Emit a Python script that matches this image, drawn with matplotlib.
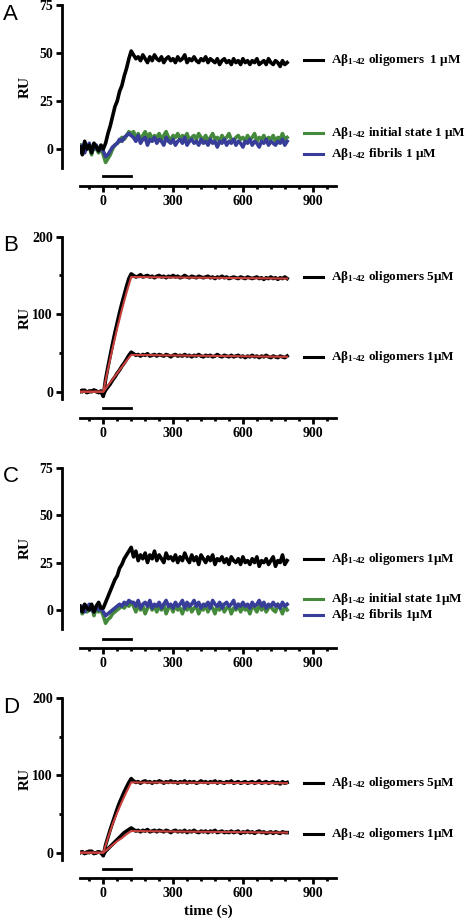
import numpy as np
import matplotlib
matplotlib.use("Agg")
import matplotlib.pyplot as plt

plt.rcParams['mathtext.fontset'] = 'custom'
plt.rcParams['mathtext.rm'] = 'Liberation Serif:bold'
plt.rcParams['mathtext.it'] = 'Liberation Serif:bold'
plt.rcParams['mathtext.bf'] = 'Liberation Serif:bold'

# temps (s) : avant injection, injection (0-120 s), dissociation
t_pre = np.arange(-100, 0, 10)
t_rise = np.arange(0, 121, 10)
t_post = np.arange(130, 791, 10)
temps = np.concatenate([t_pre, t_rise, t_post])

# ---- A : oligomeres / etat initial / fibrilles 1 uM
a_olig = ([1, -3, 4, 0, 2, -2, 3, 1, -1, 2]
          + [0, 3, 8, 12, 17, 22, 25, 30, 33, 38, 42, 47, 51]
          + [49, 47, 48, 46, 49, 47, 45, 48, 46, 49,
             47, 46, 48, 45, 47, 48, 46, 47, 45, 48,
             46, 47, 49, 45, 47, 46, 48, 46, 45, 47,
             46, 48, 45, 47, 46, 45, 47, 44, 46, 47,
             45, 46, 44, 47, 45, 46, 44, 47, 45, 46,
             44, 46, 45, 47, 44, 45, 46, 44, 47, 45,
             44, 46, 45, 43, 46, 44, 45])
a_init = ([2, -2, 3, 0, 1, -3, 2, 0, -2, 1]
          + [-3, -7, -5, -3, 0, 2, 3, 4, 6, 5, 7, 9, 8]
          + [9, 6, 8, 5, 7, 9, 6, 8, 5, 7,
             6, 8, 5, 7, 9, 6, 5, 7, 6, 8,
             5, 7, 6, 8, 4, 6, 7, 5, 8, 6,
             5, 7, 4, 6, 8, 5, 6, 4, 7, 5,
             6, 8, 5, 4, 6, 7, 5, 6, 4, 7,
             5, 6, 8, 4, 6, 5, 7, 4, 6, 5,
             7, 4, 6, 5, 8, 5, 6])
a_fib = ([0, 2, -2, 1, 3, -1, 0, 2, -1, 1]
         + [-1, -4, -3, -1, 1, 2, 3, 5, 4, 6, 7, 8, 7]
         + [6, 4, 7, 3, 5, 6, 2, 5, 4, 6,
            3, 5, 4, 2, 6, 4, 3, 5, 2, 4,
            5, 3, 6, 2, 4, 5, 3, 4, 2, 5,
            3, 4, 2, 5, 3, 4, 1, 4, 3, 5,
            2, 4, 3, 5, 2, 4, 3, 1, 4, 3,
            5, 2, 4, 3, 1, 4, 3, 5, 2, 4,
            3, 2, 4, 3, 5, 2, 4])

# ---- B : oligomeres 5 uM et 1 uM + ajustements
b_olig5 = ([1, 0, 2, -1, 1, 0, 2, 1, -1, 0]
           + [-6, 16, 32, 47, 62, 76, 89, 102, 114, 125, 136, 146, 152]
           + [150, 148, 149, 151, 148, 149, 150, 148, 149, 147,
              149, 150, 148, 149, 147, 149, 148, 150, 148, 149,
              147, 148, 150, 148, 147, 149, 148, 147, 149, 148,
              147, 148, 149, 147, 148, 146, 148, 147, 149, 147,
              148, 146, 147, 148, 147, 146, 148, 147, 146, 148,
              147, 146, 147, 148, 146, 147, 145, 147, 146, 148,
              146, 147, 145, 147, 146, 148, 146])
b_olig1 = ([0, 2, 1, -1, 0, 1, 2, 0, -1, 1]
           + [-4, 2, 6, 10, 15, 19, 24, 28, 33, 37, 42, 47, 51]
           + [49, 47, 48, 46, 48, 47, 49, 46, 47, 48,
              46, 48, 47, 46, 48, 47, 45, 47, 48, 46,
              47, 46, 48, 46, 47, 45, 47, 46, 48, 46,
              45, 47, 46, 47, 45, 46, 48, 46, 45, 47,
              46, 45, 47, 45, 46, 47, 45, 46, 44, 46,
              45, 47, 45, 46, 44, 46, 45, 47, 45, 44,
              46, 45, 44, 46, 45, 44, 46])
fit_t = [-100, 0, 20, 40, 60, 80, 100, 120, 790]
b_fit5 = [0, 0, 29, 56, 82, 106, 128, 148, 146]
b_fit1 = [0, 0, 8, 16, 24, 32, 40, 47.5, 45]

# ---- C : oligomeres / etat initial / fibrilles 1 uM
c_olig = ([2, -1, 3, 1, 0, 3, -1, 2, 4, 1]
          + [1, 4, 7, 10, 13, 16, 18, 22, 24, 27, 29, 31, 33]
          + [28, 31, 26, 29, 27, 30, 25, 29, 27, 31,
             26, 29, 27, 25, 30, 27, 28, 26, 29, 25,
             28, 26, 30, 27, 25, 29, 26, 28, 24, 29,
             27, 25, 28, 26, 29, 24, 27, 26, 28, 25,
             27, 24, 28, 26, 25, 27, 24, 28, 25, 26,
             24, 27, 25, 28, 23, 26, 25, 27, 24, 26,
             28, 23, 26, 25, 29, 24, 26])
c_init = ([1, -2, 2, -1, 0, 2, -3, 1, -1, 0]
          + [-3, -7, -5, -4, -2, -1, 0, 1, 2, 1, 3, 2, 4]
          + [2, -1, 3, 0, 2, -2, 1, 3, 0, 2,
             -1, 2, 0, 3, -2, 1, 2, -1, 3, 0,
             1, -2, 2, 0, 3, -1, 1, 2, -2, 1,
             0, 3, -1, 2, 1, -2, 2, 0, 3, -1,
             1, 2, -2, 1, 0, 3, -1, 2, 0, 1,
             -2, 2, 1, -1, 3, 0, 2, -1, 1, 2,
             0, -1, 3, 1, -2, 2, 0])
c_fib = ([0, 2, -1, 1, 3, 0, -1, 2, 0, 1]
         + [-1, -3, -2, -1, 0, 1, 2, 3, 2, 4, 3, 5, 4]
         + [4, 2, 5, 1, 3, 4, 2, 5, 1, 3,
            2, 4, 1, 3, 5, 2, 3, 1, 4, 2,
            3, 5, 1, 4, 2, 3, 5, 2, 4, 1,
            3, 2, 4, 1, 5, 3, 2, 4, 1, 3,
            4, 2, 3, 5, 1, 3, 2, 4, 2, 3,
            1, 4, 2, 3, 5, 2, 4, 1, 3, 2,
            4, 2, 3, 1, 4, 2, 3])

# ---- D : oligomeres 5 uM et 1 uM + ajustements
d_olig5 = ([0, 1, -1, 0, 2, 1, -1, 0, 1, 0]
           + [-4, 10, 20, 30, 39, 48, 57, 65, 72, 79, 85, 91, 96]
           + [93, 91, 92, 90, 92, 93, 91, 92, 90, 92,
              91, 93, 92, 90, 92, 91, 93, 91, 92, 90,
              92, 91, 93, 90, 92, 91, 92, 90, 91, 93,
              91, 92, 90, 92, 91, 93, 90, 92, 91, 90,
              92, 91, 93, 90, 91, 92, 90, 91, 92, 90,
              91, 92, 90, 91, 93, 90, 91, 92, 90, 91,
              92, 90, 91, 89, 92, 90, 91])
d_olig1 = ([0, 1, -1, 1, 0, 2, -1, 0, 1, 0]
           + [-3, 2, 5, 8, 11, 14, 17, 20, 23, 26, 28, 30, 32]
           + [30, 28, 29, 27, 29, 28, 30, 27, 28, 29,
              27, 29, 28, 27, 29, 28, 26, 28, 29, 27,
              28, 27, 29, 26, 28, 27, 29, 27, 26, 28,
              27, 28, 26, 28, 27, 29, 26, 27, 28, 26,
              27, 26, 28, 26, 27, 28, 25, 27, 26, 28,
              26, 27, 25, 27, 28, 26, 27, 25, 26, 27,
              25, 27, 26, 25, 27, 26, 26])
d_fit5 = [0, 0, 19, 37, 52, 66, 79, 91, 90]
d_fit1 = [0, 0, 5, 10, 15, 19, 24, 28, 26]

vert = '#458a3c'
bleu = '#373d98'
rouge = '#c8403c'
serif = dict(family='Liberation Serif', weight='bold')
sub = r'A$\beta_{1\text{-}42}$'
lw_data = 2.6

W, H = 473, 923
fig = plt.figure(figsize=(W / 100, H / 100), dpi=100)

# (haut px, bas px, ymax, ylim bas, position barre injection)
panneaux = [
    ('A', 5, 186, 75, -19.3, -14),
    ('B', 236.7, 418, 200, -33.9, -21),
    ('C', 467.7, 647.7, 75, -19.9, -15.3),
    ('D', 698.3, 878, 200, -32.8, -21),
]

axes = []
for lettre, haut, bas, ymax, ybas, ybar in panneaux:
    ax = fig.add_axes([80 / W, 1 - bas / H, 256 / W, (bas - haut) / H])
    ax.set_xlim(-100, 1000)
    ax.set_ylim(ybas, ymax)
    for s in ['top', 'right']:
        ax.spines[s].set_visible(False)
    ax.spines['left'].set_position(('outward', 13))
    ax.spines['left'].set_bounds(-10, ymax)
    for s in ['left', 'bottom']:
        ax.spines[s].set_linewidth(2)
    ax.set_xticks([0, 300, 600, 900])
    ax.set_xticks([m for m in range(-60, 1000, 60) if m % 300], minor=True)
    if ymax == 75:
        ax.set_yticks([0, 25, 50, 75])
    else:
        ax.set_yticks([0, 100, 200])
        ax.set_yticks([50, 150], minor=True)
    ax.tick_params(which='major', length=4.5, width=2, pad=2, labelsize=10)
    ax.tick_params(which='minor', length=2.5, width=2)
    for lab in ax.get_xticklabels() + ax.get_yticklabels():
        lab.set_fontfamily('Liberation Serif')
        lab.set_fontweight('bold')
    ax.plot([0, 120], [ybar, ybar], color='black', lw=2, clip_on=False)
    fig.text(3 / W, 1 - (haut + 9) / H, lettre, fontsize=16, family='Liberation Sans',
             ha='left', va='center')
    ymid = haut + (bas - haut) * (ymax - (ymax - 10) / 2) / (ymax - ybas)
    fig.text(25 / W, 1 - ymid / H, 'RU', rotation=90, ha='center', va='center',
             fontsize=11, **serif)
    axes.append(ax)

def legende(ax, y, couleur, texte):
    ax.plot([861, 943], [y, y], color=couleur, lw=2.2, clip_on=False)
    ax.text(978, y, texte, ha='left', va='center', fontsize=9.5, clip_on=False, **serif)

axA, axB, axC, axD = axes

axA.plot(temps, a_init, color=vert, lw=lw_data)
axA.plot(temps, a_fib, color=bleu, lw=lw_data)
axA.plot(temps, a_olig, color='black', lw=lw_data)
legende(axA, 46.4, 'black', sub + ' oligomers  1 μM')
legende(axA, 8.3, vert, sub + ' initial state 1 μM')
legende(axA, -2.6, bleu, sub + ' fibrils 1 μM')

axB.plot(temps, b_olig5, color='black', lw=lw_data)
axB.plot(temps, b_olig1, color='black', lw=lw_data)
axB.plot(fit_t, b_fit5, color=rouge, lw=1.5)
axB.plot(fit_t, b_fit1, color=rouge, lw=1.5)
legende(axB, 148, 'black', sub + ' oligomers 5μM')
legende(axB, 44.8, 'black', sub + ' oligomers 1μM')

axC.plot(temps, c_init, color=vert, lw=lw_data)
axC.plot(temps, c_fib, color=bleu, lw=lw_data)
axC.plot(temps, c_olig, color='black', lw=lw_data)
legende(axC, 26.9, 'black', sub + ' oligomers 1μM')
legende(axC, 5.6, vert, sub + ' initial state 1μM')
legende(axC, -2.6, bleu, sub + ' fibrils 1μM')

axD.plot(temps, d_olig5, color='black', lw=lw_data)
axD.plot(temps, d_olig1, color='black', lw=lw_data)
axD.plot(fit_t, d_fit5, color=rouge, lw=1.5)
axD.plot(fit_t, d_fit1, color=rouge, lw=1.5)
legende(axD, 90.7, 'black', sub + ' oligomers 5μM')
legende(axD, 24.2, 'black', sub + ' oligomers 1μM')

axD.set_xlabel('time (s)', fontsize=11, labelpad=3, **serif)

fig.savefig('out.png', dpi=100)
